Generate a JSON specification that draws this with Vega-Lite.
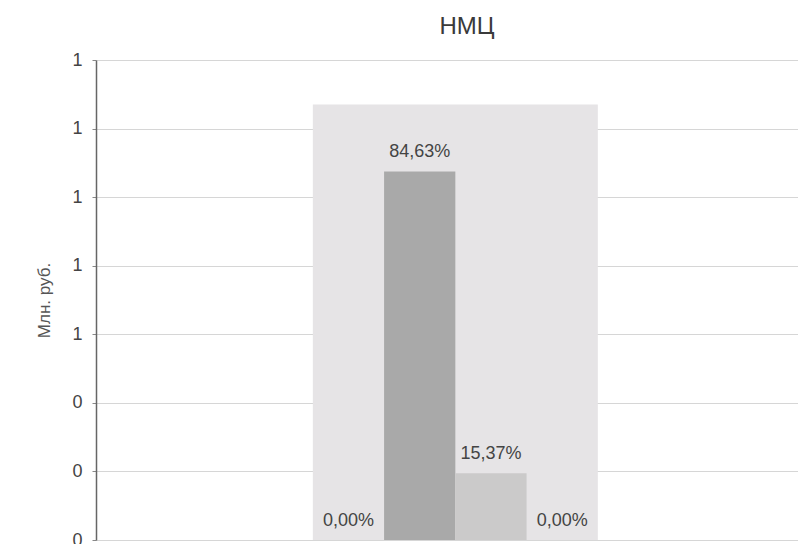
{
  "$schema": "https://vega.github.io/schema/vega-lite/v6.json",
  "width": 702,
  "height": 480,
  "autosize": "none",
  "padding": {"left": 96, "top": 60, "right": 0, "bottom": 4},
  "background": "white",
  "title": {"text": "НМЦ", "font": "Liberation Sans", "fontSize": 24, "fontWeight": "normal", "color": "#3a3a3a", "offset": 12, "dx": 20},
  "data": {"values": [
    {"group": "НМЦ", "series": "s1", "value": 0, "label": "0,00%"},
    {"group": "НМЦ", "series": "s2", "value": 1.075, "label": "84,63%"},
    {"group": "НМЦ", "series": "s3", "value": 0.195, "label": "15,37%"},
    {"group": "НМЦ", "series": "s4", "value": 0, "label": "0,00%"}
  ]},
  "config": {
    "view": {"stroke": null},
    "axis": {"labelFont": "Liberation Sans", "titleFont": "Liberation Sans"}
  },
  "encoding": {
    "x": {"field": "group", "type": "nominal", "axis": null,
          "scale": {"paddingInner": 0, "paddingOuter": 0.7316, "align": 0.52}}
  },
  "layer": [
    {
      "mark": {"type": "bar", "color": "#e6e4e6"},
      "encoding": {
        "y": {"aggregate": "sum", "field": "value", "type": "quantitative",
              "scale": {"domain": [0, 1.4], "nice": false},
              "axis": {"values": [0, 0.2, 0.4, 0.6, 0.8, 1.0, 1.2, 1.4], "format": ".0f",
                       "title": "Млн. руб.", "titleFontSize": 17, "titleFontWeight": "normal", "titleColor": "#555555",
                       "titlePadding": 18, "labelFontSize": 18, "labelColor": "#444444", "labelPadding": 10,
                       "grid": true, "gridColor": "#d6d6d6", "gridWidth": 1,
                       "domainColor": "#666666", "domainWidth": 1.5, "tickSize": 4, "tickColor": "#888888"}}
      }
    },
    {
      "mark": {"type": "bar"},
      "encoding": {
        "xOffset": {"field": "series", "type": "nominal", "scale": {"paddingInner": 0, "paddingOuter": 0}},
        "y": {"field": "value", "type": "quantitative"},
        "color": {"field": "series", "type": "nominal", "legend": null,
                  "scale": {"domain": ["s1", "s2", "s3", "s4"], "range": ["#bdbdbd", "#a9a9a9", "#cbcaca", "#d5d5d5"]}}
      }
    },
    {
      "mark": {"type": "text", "baseline": "alphabetic", "dy": -14, "font": "Liberation Sans", "fontSize": 18, "color": "#444444"},
      "encoding": {
        "xOffset": {"field": "series", "type": "nominal"},
        "y": {"field": "value", "type": "quantitative"},
        "text": {"field": "label"}
      }
    }
  ]
}
